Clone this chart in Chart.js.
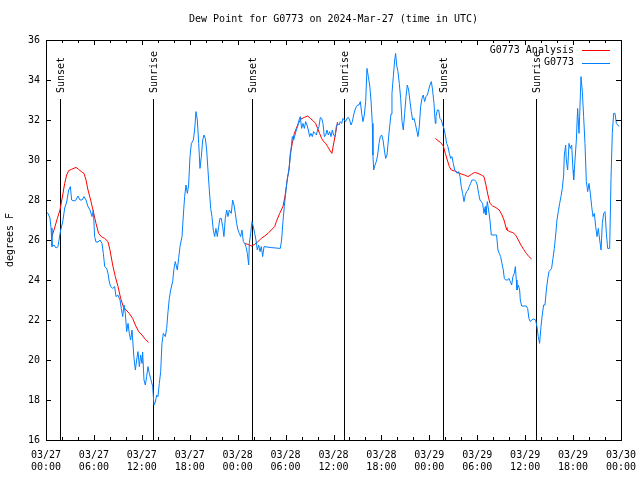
<!DOCTYPE html>
<html><head><meta charset="utf-8">
<script src="https://cdn.jsdelivr.net/npm/chart.js@4.4.1/dist/chart.umd.min.js"></script>
<style>html,body{margin:0;background:#fff}</style>
</head><body>
<canvas id="c" width="640" height="480"></canvas>
<script>
// ── Dew point G0773: observation + analysis, with sunset/sunrise markers ──

const TITLE = 'Dew Point for G0773 on 2024-Mar-27 (time in UTC)';
const Y_LABEL = 'degrees F';
const FONT_FAMILY = 'DejaVu Sans Mono';

// x axis is hours since 03/27 00:00 UTC
const xTickLabels = [
  ['03/27','00:00'],['03/27','06:00'],['03/27','12:00'],['03/27','18:00'],
  ['03/28','00:00'],['03/28','06:00'],['03/28','12:00'],['03/28','18:00'],
  ['03/29','00:00'],['03/29','06:00'],['03/29','12:00'],['03/29','18:00'],
  ['03/30','00:00'],
];
const sunHours  = [1.79, 13.44, 25.83, 37.35, 49.75, 61.4];
const sunLabels = ['Sunset','Sunrise','Sunset','Sunrise','Sunset','Sunrise'];

const obsHours = [
  0,0.25,0.5,0.63,0.75,1,1.25,1.5,1.71,1.84,2.09,2.34,2.59,2.84,3.05,3.21,3.51,3.76,4,4.26,4.51,4.76,5.01,5.26,5.51,5.76,5.93,
  6.09,6.26,6.51,6.76,7.01,7.18,7.35,7.6,7.76,7.93,8.1,8.35,8.6,8.76,9,9.27,9.43,9.6,9.77,9.93,10.1,10.27,10.43,10.6,10.77,
  11.02,11.19,11.35,11.52,11.69,11.85,12.02,12.1,12.27,12.44,12.6,12.77,12.94,13.1,13.36,13.52,13.69,13.86,14.02,
  14.19,14.36,14.52,14.69,14.94,15.11,15.28,15.44,15.61,15.86,16.03,16.19,16.44,16.61,16.78,17.03,17.2,17.36,17.53,17.7,17.86,
  18.03,18.2,18.45,18.61,18.78,18.95,19.12,19.28,19.45,19.62,19.78,19.95,20.12,20.28,20.45,20.62,20.78,20.95,21.12,21.28,21.45,
  21.62,21.78,21.95,22.12,22.28,22.45,22.62,22.79,22.95,23.2,23.37,23.54,23.71,23.87,24.04,24.21,24.37,24.54,24.71,24.87,25.04,
  25.21,25.38,25.46,25.63,25.79,25.96,26.13,26.29,26.46,26.63,26.8,26.96,27.13,27.3,28.21,29.34,
  29.5,29.67,29.84,30.01,30.17,30.34,30.51,30.68,30.84,31.01,31.18,31.34,31.51,31.68,31.84,32.01,32.18,32.35,32.51,32.68,32.85,
  33.01,33.18,33.35,33.51,33.68,33.85,34.01,34.18,34.35,34.52,34.68,34.85,35.02,35.18,35.35,35.52,35.69,35.85,36.02,36.19,36.35,
  36.52,36.69,36.85,37.02,37.19,37.36,37.52,37.69,37.86,38.02,38.19,38.36,38.52,38.69,38.86,39.02,39.19,39.36,39.53,39.69,39.86,
  40.03,40.19,40.36,40.53,40.69,40.86,40.94,41.03,41.2,41.36,41.53,41.7,41.86,42.03,42.2,42.37,42.53,42.7,42.87,43.03,
  43.2,43.32,43.49,43.66,43.78,43.91,44.07,44.24,44.41,44.58,44.74,44.91,45.08,45.24,45.41,45.58,45.74,45.91,46.08,46.24,46.41,
  46.58,46.74,46.91,47.08,47.24,47.41,47.58,47.75,47.91,48.08,48.25,48.41,48.58,48.75,48.83,49,49.17,49.33,49.5,49.67,49.83,
  50,50.17,50.33,50.5,50.67,50.83,51,51.17,51.33,51.5,51.67,51.84,52,52.17,52.34,52.5,52.67,52.84,53,53.17,53.34,53.5,53.67,
  53.84,54,54.17,54.34,54.5,54.67,54.84,55,55.09,55.26,55.42,55.59,55.76,56.42,56.59,56.76,56.93,57.09,57.26,
  57.39,57.56,57.81,57.97,58.14,58.31,58.47,58.64,58.77,58.89,58.97,59.14,59.31,59.39,59.56,60.14,60.31,60.47,60.64,60.81,61.06,
  61.31,61.48,61.64,61.81,61.98,62.14,62.31,62.48,62.65,62.81,62.98,63.15,63.31,63.48,63.65,63.82,63.98,64.15,64.32,64.48,64.65,
  64.82,64.9,65.07,65.15,65.32,65.49,65.65,65.82,65.99,66.07,66.24,66.41,66.57,66.74,66.82,66.99,67.16,67.32,67.49,67.66,67.83,
  67.99,68.16,68.33,68.49,68.66,68.83,69,69.16,69.33,69.5,69.66,69.83,70,70.17,70.33,70.58,70.75,70.91,71.08,71.25,71.42,71.75,
];
const obsValues = [
  27.4,27.33,27.1,26.6,25.67,25.75,25.6,25.67,26.2,26.5,26.9,27.6,27.9,28.5,28.67,28,27.95,28,28.2,28,28,28.17,28,27.67,27.5,27.17,27.5,
  26.17,25.9,25.9,26,25.83,25.33,24.67,24.58,24.33,23.9,23.67,23.58,23.67,23.17,23.25,23,22.58,22.17,22.75,22.33,21.42,21.83,21.33,21,21.5,
  20.08,19.5,20,20.42,19.67,20.25,19.83,20.4,19,18.75,19.17,19.67,19.33,19.08,18.67,17.75,17.9,18.25,18.17,
  18.83,19.42,20.83,21.33,21.17,21.58,22.42,23.08,23.5,23.92,24.58,24.92,24.5,25.08,25.67,26.17,27.25,28.17,28.75,28.33,28.75,
  30.17,30.83,31,31.5,32.42,32,30.83,29.58,30.17,31,31.25,31.08,30.5,29.5,28.5,27.58,27.17,26.5,26.17,26.58,26.17,
  26.67,27.08,27.08,26.67,26.17,27.08,27.5,27.17,27.5,27.33,28,27.75,27.33,26.83,26.5,26.33,26.17,26.5,25.92,25.83,25.67,
  25.33,24.75,25.83,26.33,26.92,26.67,26.33,26,25.5,25.75,25.42,25.67,25.17,25.67,25.62,25.58,
  26,26.92,27.67,28.33,28.92,29.33,29.83,30.5,31.17,31,31.25,31.5,31.67,32,32.17,31.58,31.83,31.58,31.92,31.75,31.5,
  31.17,31.33,31.17,31.42,31.33,31.25,31.5,31.67,32.13,32.08,31.83,31.17,31.25,31.5,31.25,31.42,31.17,31.5,31.25,31.17,31.67,
  31.83,31.75,31.92,31.83,32.08,32,31.92,32.08,32.13,32,31.75,31.92,32.25,32.5,32.67,32.75,32.75,32.92,32.33,31.92,32.25,
  32.92,34.58,34.17,33.75,33,31.83,30.25,29.5,29.75,29.92,30.25,30.83,31.17,31.25,31,30.5,30.08,30.25,31,31.67,
  32.3,33.33,34.17,35,35.33,34.75,34.42,33.83,33.08,31.92,31.5,32.33,33.17,33.75,33.5,32.92,32.42,32,32.08,31.83,31.5,
  31.17,31.67,32.67,33.08,33.25,32.92,33.17,33.25,33.5,33.75,33.92,33.5,32.83,31.83,32.17,32.5,32.5,32.08,32,31.75,31.58,
  31.25,30.83,30.67,30.33,30.08,30.17,29.83,29.5,29.42,29.33,29.42,29.17,28.67,28.33,27.92,28.25,28.42,28.5,28.67,28.83,29,29,29,
  28.92,28.75,28.33,28,27.92,27.83,27.33,27.67,27.25,27.92,27.5,27,26.25,26.25,25.5,25.33,25.17,24.83,24.5,
  24.08,24,24,24.08,23.92,23.75,24.17,24.33,24.67,24,23.5,23.75,23.5,23,22.7,22.7,22.58,22.08,21.92,22,22.05,
  22,21.67,21.17,20.83,21.67,22.25,22.75,22.75,23.5,24,24.42,24.5,24.58,25.08,25.58,26.25,27,27.42,27.83,28.17,28.58,
  29.25,30.25,30.75,30,29.5,30.83,30.58,30.75,29.5,29,30,31,32.58,31.33,32.17,34.17,33.42,32.17,30.83,28.92,28.42,
  28.83,28.33,27.67,27.17,27.33,26.67,26.17,26.58,26,25.5,26.83,27.33,27.42,26.33,25.58,25.58,29.08,31.33,32.33,32.33,31.83,31.67,
];

// analysis: three runs, null breaks the line
const anaHours = [
  0.67,1,1.42,1.75,2.09,2.34,2.59,2.84,3.17,3.76,4.09,4.42,4.76,5.01,5.26,5.59,5.93,6.26,6.59,6.93,7.35,7.76,8.01,8.35,8.68,
  9.02,9.35,9.68,10.02,10.43,10.85,11.19,11.6,12.02,12.44,12.85,
  18,
  24.87,25.29,25.71,26.13,26.54,26.96,27.38,27.8,28.21,28.63,28.84,29.26,29.67,29.92,30.09,30.26,30.43,30.59,30.84,31.09,31.34,
  31.59,31.93,32.35,32.76,33.1,33.43,33.76,34.01,34.26,34.51,34.77,35.02,35.27,35.52,35.8,36.1,36.3,36.5,
  42,
  48.75,49.08,49.42,49.75,50,50.25,50.5,50.75,51.17,51.59,52,52.42,52.84,53.26,53.67,54.09,54.51,54.84,55.09,55.34,55.59,55.93,
  56.34,56.76,57.1,57.35,57.6,57.72,58.05,58.47,58.8,59.14,59.47,59.81,60.14,60.47,60.81,
];
const anaValues = [
  26.08,26.5,27.08,27.5,28.25,28.83,29.25,29.47,29.53,29.63,29.53,29.42,29.33,29,28.5,28,27.42,26.83,26.33,26.17,26.08,25.92,25.5,24.75,24.17,
  23.67,23.08,22.67,22.5,22.33,22.08,21.75,21.42,21.25,21.03,20.88,
  null,
  25.83,25.78,25.7,25.78,25.92,26.08,26.2,26.33,26.5,26.67,26.92,27.33,27.67,28.17,28.67,29.17,29.5,30.33,30.83,31.33,31.58,
  31.83,32.05,32.13,32.2,32.08,31.97,31.83,31.58,31.33,31.08,30.92,30.83,30.67,30.5,30.33,31,31.42,31.9,
  null,
  31.08,30.97,30.87,30.7,30.33,30,29.67,29.5,29.45,29.37,29.3,29.25,29.17,29.28,29.38,29.33,29.25,29.17,28.75,28.25,27.83,27.7,
  27.62,27.5,27.25,27,26.62,26.5,26.42,26.37,26.25,26,25.75,25.53,25.33,25.17,25.05,
];

const pts = (xs,ys)=>xs.map((x,i)=>({x, y:ys[i]}));
const FONT = `10px "${FONT_FAMILY}"`;

// gnuplot-like frame: box, inward ticks, sun lines, title, key
const frame = {
  id:'frame',
  beforeDatasetsDraw(chart){
    const {ctx, chartArea:a, scales:{x}} = chart;
    ctx.save();
    ctx.strokeStyle = '#000'; ctx.fillStyle = '#000'; ctx.lineWidth = 1; ctx.font = FONT;
    sunHours.forEach((h,i)=>{
      const px = Math.round(x.getPixelForValue(h)) + 0.5;
      ctx.beginPath(); ctx.moveTo(px, a.top+59); ctx.lineTo(px, a.bottom); ctx.stroke();
      ctx.save();
      ctx.translate(px+1, a.top+53); ctx.rotate(-Math.PI/2);
      ctx.textAlign = 'left'; ctx.textBaseline = 'middle';
      ctx.fillText(sunLabels[i], 0, 0);
      ctx.restore();
    });
    ctx.restore();
  },
  afterDraw(chart){
    const {ctx, chartArea:a, scales:{x,y}} = chart;
    ctx.save();
    ctx.strokeStyle = '#000'; ctx.fillStyle = '#000'; ctx.lineWidth = 1; ctx.font = FONT;
    ctx.strokeRect(a.left+0.5, a.top+0.5, a.right-a.left, a.bottom-a.top);
    ctx.beginPath();
    for(let h=2; h<72; h+=2){
      const px = Math.round(x.getPixelForValue(h)) + 0.5;
      const len = h%6===0 ? 5 : 3;
      ctx.moveTo(px, a.bottom); ctx.lineTo(px, a.bottom-len);
      ctx.moveTo(px, a.top); ctx.lineTo(px, a.top+len);
    }
    for(let v=18; v<36; v+=2){
      const py = Math.round(y.getPixelForValue(v)) + 0.5;
      ctx.moveTo(a.left, py); ctx.lineTo(a.left+5, py);
      ctx.moveTo(a.right, py); ctx.lineTo(a.right-5, py);
    }
    ctx.stroke();

    ctx.textAlign = 'center'; ctx.textBaseline = 'middle';
    ctx.fillText(TITLE, (a.left+a.right)/2, 19);
    ctx.save();
    ctx.translate(10, (a.top+a.bottom)/2); ctx.rotate(-Math.PI/2);
    ctx.fillText(Y_LABEL, 0, 0);
    ctx.restore();

    // key, top right
    ctx.textAlign = 'right';
    chart.data.datasets.forEach((ds,i)=>{
      const ky = 50 + i*12.5;
      ctx.fillText(ds.label, 574, ky);
      ctx.strokeStyle = ds.borderColor;
      ctx.beginPath(); ctx.moveTo(582, Math.round(ky)+0.5); ctx.lineTo(610, Math.round(ky)+0.5); ctx.stroke();
    });
    ctx.restore();
  }
};

const tickFont = {family:FONT_FAMILY, size:10, lineHeight:1.2};

new Chart(document.getElementById('c'), {
  type:'line',
  data:{datasets:[
    {label:'G0773 Analysis', data:pts(anaHours,anaValues), borderColor:'#ff0000', borderWidth:1, pointRadius:0, tension:0, spanGaps:false, order:1},
    {label:'G0773', data:pts(obsHours,obsValues), borderColor:'#0080ff', borderWidth:1, pointRadius:0, tension:0, order:0},
  ]},
  options:{
    responsive:false, animation:false, devicePixelRatio:1,
    layout:{padding:{top:40, right:19, left:0, bottom:0}},
    plugins:{legend:{display:false}, tooltip:{enabled:false}, title:{display:false}},
    scales:{
      x:{
        type:'linear', min:0, max:72,
        afterFit(s){ s.height = 40; s.paddingLeft = 0; s.paddingRight = 0; },
        grid:{display:false, drawTicks:false}, border:{display:false},
        ticks:{stepSize:6, autoSkip:false, maxRotation:0, padding:9, color:'#000', font:tickFont,
          callback:v=>xTickLabels[Math.round(v/6)]},
      },
      y:{
        min:16, max:36,
        afterFit(s){ s.width = 46; },
        grid:{display:false, drawTicks:false}, border:{display:false},
        ticks:{stepSize:2, padding:6, color:'#000', font:tickFont},
      },
    },
  },
  plugins:[frame],
});
</script>
</body></html>
